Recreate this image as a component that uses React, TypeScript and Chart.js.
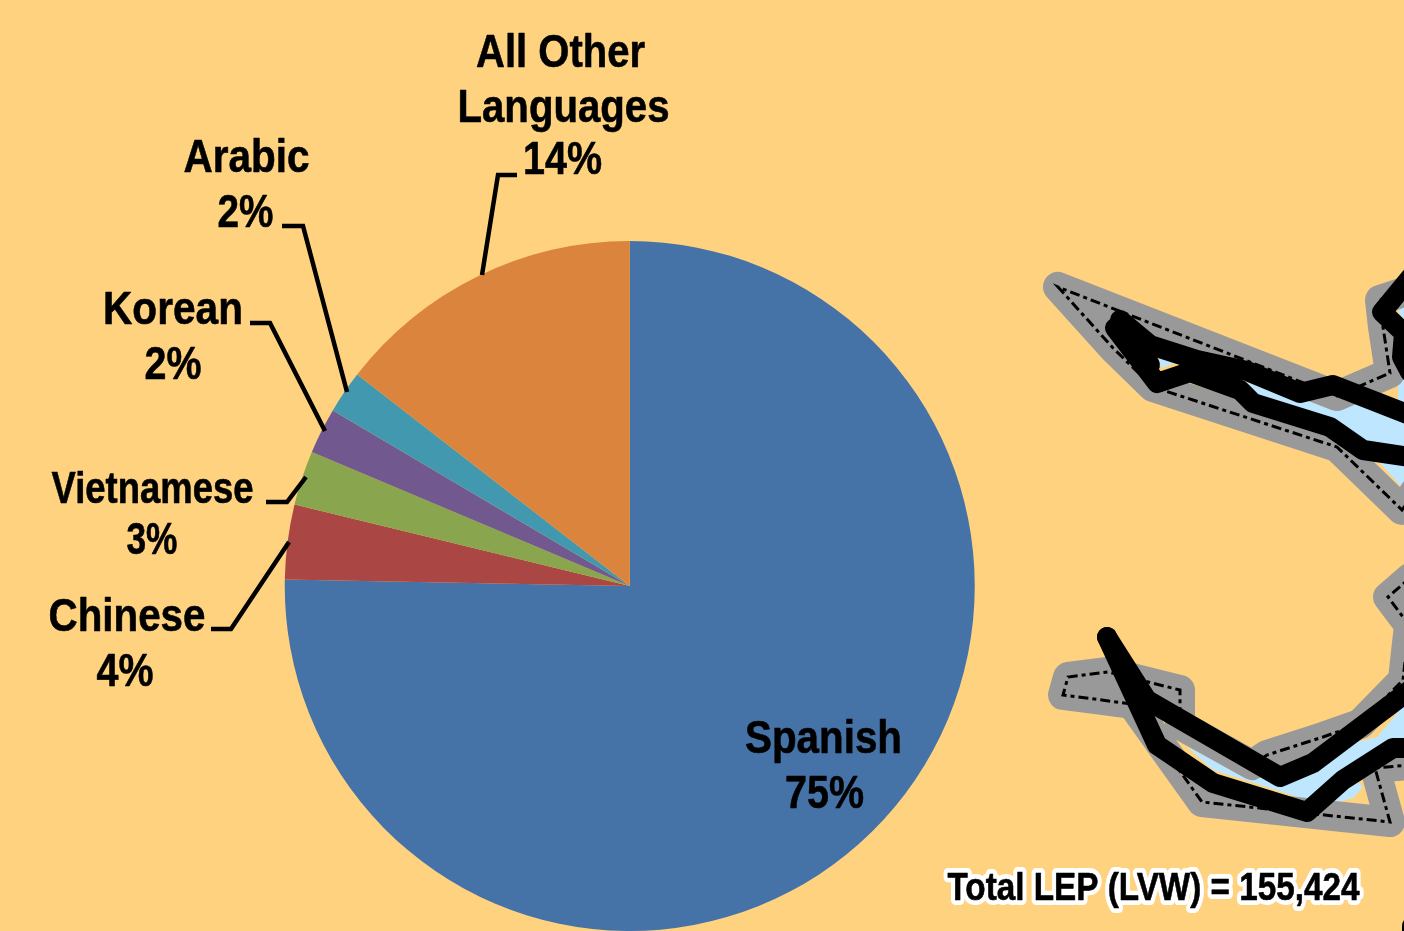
import React, { useEffect, useRef } from "react";
import { Chart, registerables } from "chart.js";

Chart.register(...registerables);

// ---- pie data ----
const languages = ["Spanish", "Chinese", "Vietnamese", "Korean", "Arabic", "All Other Languages"];
const shares = [75.3, 3.5, 2.55, 2.15, 2.0, 14.5];
const sliceColors = ["#4572A7", "#AA4643", "#89A54E", "#71588F", "#4198AF", "#DB843D"];
const totalLabel = "Total LEP (LVW) = 155,424";

// ---- map data (in the map's own x/y units) ----
type P = [number, number];
const waterUpper: P[] = [[1213, 370], [1300, 393], [1333, 382], [1404, 413], [1410, 500], [1398, 483], [1380, 463], [1360, 452], [1330, 427], [1253, 403], [1240, 390]];
const waterSliver: P[] = [[1157, 357], [1175, 363], [1162, 368]];
const waterEast: P[] = [[1398, 380], [1406, 365], [1406, 412], [1398, 405]];
const waterNorth: P[] = [[1398, 310], [1406, 300], [1406, 325]];
const waterLower: P[] = [[1187, 747], [1250, 775], [1280, 782], [1313, 768], [1345, 745], [1377, 737], [1406, 703], [1406, 748], [1393, 748], [1350, 775], [1363, 787], [1353, 798], [1338, 802], [1307, 800], [1213, 770]];

const boundaryUpper: P[] = [[1430, 470], [1402, 510], [1337, 447], [1153, 387], [1113, 348], [1058, 287], [1337, 396], [1390, 373], [1383, 327], [1380, 300], [1410, 290]];
const boundaryIslet: P[] = [[1132, 704], [1063, 695], [1068, 677], [1108, 672], [1180, 690], [1180, 725], [1252, 765], [1267, 755], [1323, 737], [1360, 724], [1403, 680], [1409, 625], [1388, 597], [1410, 578]];
const boundaryLower: P[] = [[1132, 704], [1202, 802], [1390, 822], [1375, 768], [1410, 765]];

const riverA: P[] = [[1120, 320], [1150, 345], [1197, 360], [1247, 371], [1300, 393], [1333, 385], [1410, 415]];
const riverB: P[] = [[1115, 328], [1157, 383], [1190, 372], [1240, 390], [1253, 403], [1330, 427], [1363, 450], [1410, 457]];
const riverC: P[] = [[1410, 278], [1382, 312], [1404, 333], [1402, 357], [1410, 372]];
const riverD: P[] = [[1107, 637], [1147, 700], [1280, 777], [1313, 763], [1410, 690]];
const riverE: P[] = [[1107, 637], [1157, 745], [1213, 783], [1307, 812], [1343, 780], [1393, 748], [1410, 748]];
const riverF: P[] = [[1412, 926], [1412, 945]];
const riverG: P[] = [[1135, 340], [1150, 365]];

const toXY = (pts: P[]) => pts.map(([x, y]) => ({ x, y }));

// ---- label layout ----
const BOLD = '"Liberation Sans", Arial, sans-serif';
type Lbl = { t: string; cx: number; y: number; w: number; s: number };
const pieLabels: Lbl[] = [
  { t: "All Other", cx: 560.5, y: 66.5, w: 169, s: 47 },
  { t: "Languages", cx: 563.5, y: 121.5, w: 212, s: 47 },
  { t: "14%", cx: 562.5, y: 173.5, w: 79, s: 47 },
  { t: "Arabic", cx: 246.5, y: 171.5, w: 126, s: 47 },
  { t: "2%", cx: 245.5, y: 226.5, w: 56, s: 47 },
  { t: "Korean", cx: 173, y: 323.5, w: 140, s: 47 },
  { t: "2%", cx: 173, y: 378.5, w: 57, s: 47 },
  { t: "Vietnamese", cx: 152.5, y: 502.5, w: 202, s: 44 },
  { t: "3%", cx: 152, y: 553.5, w: 51, s: 44 },
  { t: "Chinese", cx: 127, y: 630.5, w: 157, s: 47 },
  { t: "4%", cx: 125, y: 685.5, w: 57, s: 47 },
  { t: "Spanish", cx: 823.5, y: 752.5, w: 157, s: 47 },
  { t: "75%", cx: 824.5, y: 807.5, w: 79, s: 47 },
];
const leaders: P[][] = [
  [[517, 175], [498, 175], [482, 275]],
  [[282, 226], [303, 226], [347, 392]],
  [[250, 323], [270, 323], [325, 431]],
  [[266, 502], [287, 502], [306, 477]],
  [[211, 629], [231, 629], [289, 542]],
];

function fitted(ctx: CanvasRenderingContext2D, l: Lbl, outline = 0) {
  ctx.save();
  ctx.font = `bold ${l.s}px ${BOLD}`;
  ctx.textAlign = "center";
  ctx.textBaseline = "alphabetic";
  const natural = ctx.measureText(l.t).width;
  ctx.translate(l.cx, l.y);
  ctx.scale(l.w / natural, 1);
  ctx.lineJoin = "round";
  if (outline) {
    ctx.strokeStyle = "#fff";
    ctx.lineWidth = outline;
    ctx.strokeText(l.t, 0, 0);
  }
  ctx.fillStyle = "#000";
  ctx.strokeStyle = "#000";
  ctx.lineWidth = 0.6;
  ctx.strokeText(l.t, 0, 0);
  ctx.fillText(l.t, 0, 0);
  ctx.restore();
}

const pieAnnotations = {
  id: "pieAnnotations",
  afterDraw(chart: Chart) {
    const ctx = chart.ctx;
    ctx.save();
    ctx.strokeStyle = "#000";
    ctx.lineWidth = 4.5;
    ctx.lineJoin = "miter";
    leaders.forEach((path) => {
      ctx.beginPath();
      path.forEach(([x, y], i) => (i ? ctx.lineTo(x, y) : ctx.moveTo(x, y)));
      ctx.stroke();
    });
    ctx.restore();
    pieLabels.forEach((l) => fitted(ctx, l));
  },
};

const mapAnnotations = {
  id: "mapAnnotations",
  afterDraw(chart: Chart) {
    fitted(chart.ctx, { t: totalLabel, cx: 1153.5, y: 900, w: 412, s: 39 }, 10);
  },
};

const water = (pts: P[], order: number) => ({
  data: toXY(pts), order, showLine: true, pointRadius: 0, borderWidth: 0,
  backgroundColor: "#BEE7FF", borderColor: "#BEE7FF", fill: "shape",
});
const halo = (pts: P[]) => ({
  data: toXY(pts), order: 30, showLine: true, pointRadius: 0, borderWidth: 30,
  borderColor: "#999999", borderCapStyle: "round", borderJoinStyle: "round", fill: false,
});
const dashed = (pts: P[]) => ({
  data: toXY(pts), order: 20, showLine: true, pointRadius: 0, borderWidth: 3,
  borderColor: "#000", borderDash: [10, 4, 4, 4], borderJoinStyle: "miter", fill: false,
});
const river = (pts: P[]) => ({
  data: toXY(pts), order: 10, showLine: true, pointRadius: 0, borderWidth: 20,
  borderColor: "#000", borderCapStyle: "round", borderJoinStyle: "round", fill: false,
});

export default function App() {
  const pieRef = useRef<HTMLCanvasElement>(null);
  const mapRef = useRef<HTMLCanvasElement>(null);

  useEffect(() => {
    document.body.style.margin = "0";
    document.body.style.overflow = "hidden";
    const pie = new Chart(pieRef.current!, {
      type: "pie",
      data: {
        labels: languages,
        datasets: [{ data: shares, backgroundColor: sliceColors, borderWidth: 0 }],
      },
      options: {
        animation: false,
        responsive: false,
        events: [],
        layout: { padding: { left: 284.5, right: 429, top: 241, bottom: 0 } },
        plugins: { legend: { display: false }, tooltip: { enabled: false } },
      },
      plugins: [pieAnnotations],
    } as any);
    const boundaries = [boundaryUpper, boundaryIslet, boundaryLower];
    const map = new Chart(mapRef.current!, {
      type: "scatter",
      data: {
        datasets: [
          water(waterUpper, 40), water(waterSliver, 41), water(waterEast, 42), water(waterNorth, 43), water(waterLower, 44),
          ...boundaries.map(halo),
          ...boundaries.map(dashed),
          ...[riverA, riverB, riverC, riverD, riverE, riverF, riverG].map(river),
        ],
      },
      options: {
        animation: false,
        responsive: false,
        events: [],
        layout: { padding: 0 },
        scales: {
          x: { type: "linear", display: false, min: 0, max: 1404 },
          y: { type: "linear", display: false, min: 0, max: 931, reverse: true },
        },
        plugins: { legend: { display: false }, tooltip: { enabled: false } },
      },
      plugins: [mapAnnotations],
    } as any);
    return () => {
      pie.destroy();
      map.destroy();
    };
  }, []);

  const layer: React.CSSProperties = { position: "absolute", left: 0, top: 0, display: "block" };
  return (
    <div style={{ position: "relative", width: 1404, height: 931, background: "#FFD27F", overflow: "hidden" }}>
      <canvas ref={pieRef} width={1404} height={931} style={layer} />
      <canvas ref={mapRef} width={1404} height={931} style={layer} />
    </div>
  );
}
